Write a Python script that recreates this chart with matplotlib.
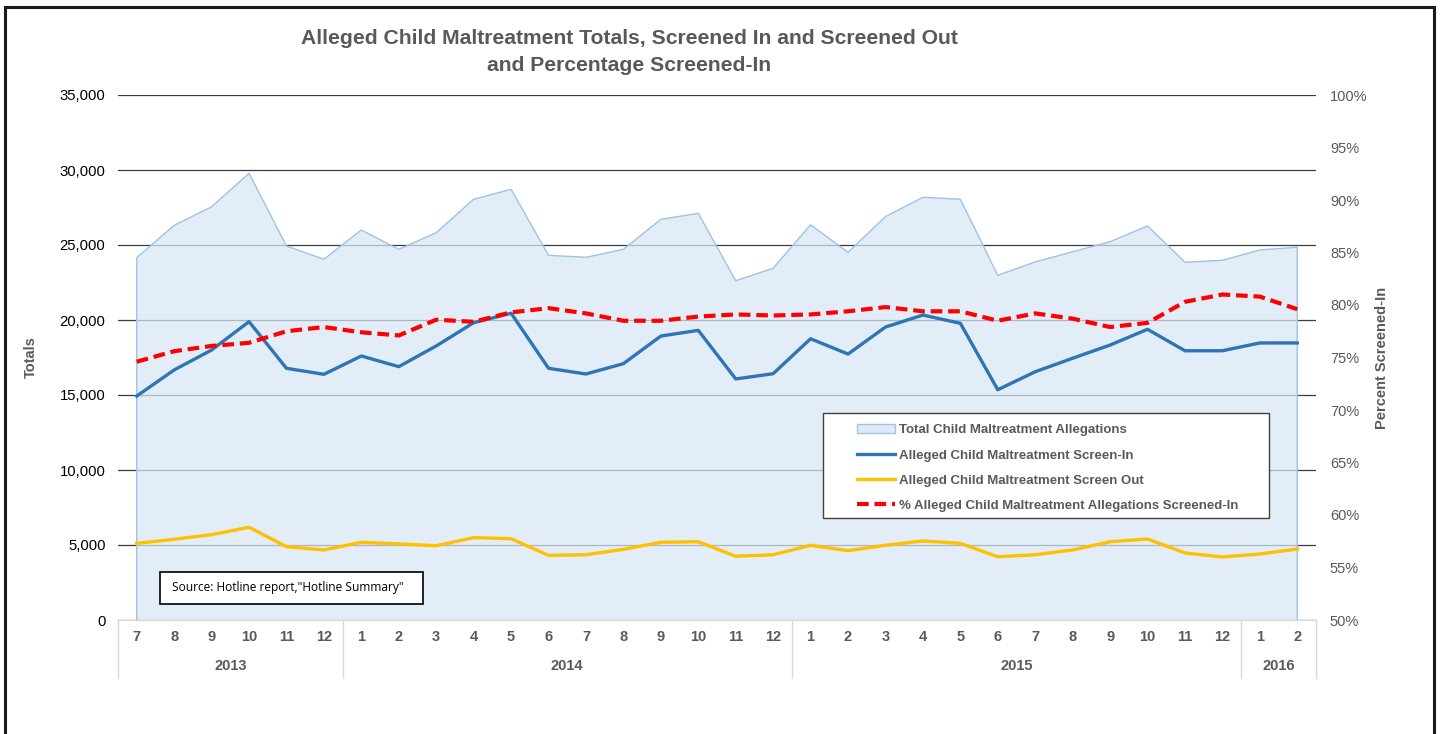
import matplotlib
matplotlib.use("Agg")
import matplotlib.pyplot as plt
from matplotlib.patches import Patch, Rectangle
from matplotlib.lines import Line2D
import matplotlib.transforms as mtransforms
from matplotlib.ticker import FuncFormatter

plt.rcParams['font.family'] = ['Liberation Sans', 'DejaVu Sans']

months = ['7', '8', '9', '10', '11', '12',
          '1', '2', '3', '4', '5', '6', '7', '8', '9', '10', '11', '12',
          '1', '2', '3', '4', '5', '6', '7', '8', '9', '10', '11', '12',
          '1', '2']
years = ['2013', '2014', '2015', '2016']
year_counts = [6, 12, 12, 2]

total = [24150, 26310, 27550, 29780, 24930, 24050,
         26000, 24710, 25820, 28050, 28710, 24310, 24180, 24710, 26710, 27110, 22620, 23450,
         26350, 24510, 26890, 28180, 28050, 22980, 23870, 24550, 25220, 26270, 23850, 23980,
         24670, 24850]
screen_in = [14930, 16670, 18000, 19890, 16780, 16380,
             17600, 16890, 18270, 19820, 20450, 16780, 16400, 17090, 18930, 19310, 16070, 16420,
             18750, 17730, 19530, 20330, 19780, 15350, 16550, 17450, 18330, 19380, 17950, 17950,
             18470, 18470]
screen_out = [5110, 5380, 5690, 6180, 4890, 4670,
              5180, 5070, 4950, 5490, 5420, 4310, 4350, 4710, 5180, 5220, 4250, 4350,
              4980, 4620, 4980, 5270, 5110, 4220, 4350, 4670, 5220, 5400, 4470, 4200,
              4400, 4730]
pct = [74.6, 75.6, 76.1, 76.4, 77.5, 77.9,
       77.4, 77.1, 78.6, 78.4, 79.3, 79.7, 79.2, 78.5, 78.5, 78.9, 79.1, 79.0,
       79.1, 79.4, 79.8, 79.4, 79.4, 78.5, 79.2, 78.7, 77.9, 78.3, 80.3, 81.0,
       80.8, 79.6]

W, H = 1440, 734
fig = plt.figure(figsize=(W / 100, H / 100), dpi=100)

def fx(px):
    return px / W

def fy(py):
    return 1 - py / H

# outer frame
fig.patches.append(Rectangle((fx(5), fy(760)), fx(1434) - fx(5), fy(7) - fy(760),
                             transform=fig.transFigure, fill=False,
                             edgecolor='#1a1a1a', linewidth=2.2, clip_on=False))

ax = fig.add_axes([fx(118), fy(620), fx(1316) - fx(118), fy(95) - fy(620)])
ax2 = ax.twinx()

x = list(range(len(months)))
ax.set_xlim(-0.5, len(months) - 0.5)
ax.set_ylim(0, 35000)
ax2.set_ylim(0.5, 1.0)

ax.set_yticks(range(0, 35001, 5000))
ax.yaxis.set_major_formatter(FuncFormatter(lambda v, p: f"{int(v):,}"))
ax2.set_yticks([0.5 + 0.05 * i for i in range(11)])
ax2.yaxis.set_major_formatter(FuncFormatter(lambda v, p: f"{round(v * 100):d}%"))

ax.grid(axis='y', color='#3c3c3c', linewidth=0.9, zorder=0)
ax.set_axisbelow(True)

ax.fill_between(x, total, 0, facecolor=(216/255, 230/255, 245/255), alpha=0.72,
                edgecolor='none', zorder=2)
ax.plot([x[0]] + x + [x[-1]], [0] + total + [0], color='#9dc3e6', linewidth=1.0, zorder=3)
ax.plot(x, screen_in, color='#2e75b6', linewidth=2.4, zorder=4, solid_joinstyle='round')
ax.plot(x, screen_out, color='#ffc000', linewidth=2.4, zorder=4, solid_joinstyle='round')
ax2.plot(x, [p / 100 for p in pct], color='#ff0000', linewidth=3.0,
         linestyle=(0, (2.8, 1.4)), zorder=5)

for a in (ax, ax2):
    for s in a.spines.values():
        s.set_visible(False)
ax.spines['bottom'].set_visible(True)
ax.spines['bottom'].set_color('#d9d9d9')

ax.tick_params(axis='y', length=0, pad=9, labelsize=10.7, labelcolor='#000000')
ax2.tick_params(axis='y', length=0, pad=10, labelsize=10.5, labelcolor='#595959')
ax.set_xticks(x)
ax.set_xticklabels(months)
ax.tick_params(axis='x', length=0, pad=7.5, labelsize=10.5, labelcolor='#595959')
for t in ax.get_xticklabels():
    t.set_fontweight('bold')

# category separators and years
trans = mtransforms.blended_transform_factory(ax.transData, ax.transAxes)
y_bottom = -(678 - 620) / 525
bounds = [-0.5]
for c in year_counts:
    bounds.append(bounds[-1] + c)
for b in bounds:
    ax.plot([b, b], [0, y_bottom], transform=trans, color='#d9d9d9', linewidth=1.0,
            clip_on=False, zorder=1)
for i, yr in enumerate(years):
    cx = (bounds[i] + bounds[i + 1]) / 2
    ax.text(cx, -(666 - 620) / 525, yr, transform=trans, ha='center', va='center',
            fontsize=10.5, fontweight='bold', color='#595959')

ax.set_ylabel('Totals', fontsize=10.5, fontweight='bold', color='#595959')
ax.yaxis.set_label_coords((38 - 118) / 1198, 0.5)
ax2.set_ylabel('Percent Screened-In', fontsize=10.5, fontweight='bold', color='#595959')
ax2.yaxis.set_label_coords((1375 - 118) / 1198, 0.5)

fig.text(fx(629), fy(52), 'Alleged Child Maltreatment Totals, Screened In and Screened Out\nand Percentage Screened-In',
         ha='center', va='center', fontsize=15.2, fontweight='bold', color='#595959',
         linespacing=1.5)

# legend frame drawn manually
ax2.add_patch(Rectangle((fx(823), fy(518)), fx(1269) - fx(823), fy(413) - fy(518),
                        transform=fig.transFigure, facecolor='white', edgecolor='#404040',
                        linewidth=1.0, zorder=9, clip_on=False))
handles = [Patch(facecolor='#deebf7', edgecolor='#9dc3e6', linewidth=1.0),
           Line2D([0], [0], color='#2e75b6', linewidth=2.4),
           Line2D([0], [0], color='#ffc000', linewidth=2.4),
           Line2D([0], [0], color='#ff0000', linewidth=3.0, linestyle=(0, (2.8, 1.4)))]
labels = ['Total Child Maltreatment Allegations',
          'Alleged Child Maltreatment Screen-In',
          'Alleged Child Maltreatment Screen Out',
          '% Alleged Child Maltreatment Allegations Screened-In']
leg = ax2.legend(handles, labels, loc='center left',
                 bbox_to_anchor=(fx(857), fy(468)), bbox_transform=fig.transFigure,
                 frameon=False, prop={'size': 9.5, 'weight': 'bold'},
                 handlelength=2.85, handleheight=0.7, handletextpad=0.3,
                 labelspacing=0.98, borderpad=0.0, borderaxespad=0.0)
for t in leg.get_texts():
    t.set_color('#595959')
leg.set_zorder(10)

# source box
fig.patches.append(Rectangle((fx(160), fy(604)), fx(423) - fx(160), fy(572) - fy(604),
                             transform=fig.transFigure, facecolor='white',
                             edgecolor='#000000', linewidth=1.2, zorder=20))
fig.text(fx(172), fy(588), 'Source: Hotline report,"Hotline Summary"', ha='left', va='center',
         fontsize=8.6, color='#000000', zorder=21, family=['Open Sans', 'DejaVu Sans'])

fig.savefig('out.png', dpi=100)
